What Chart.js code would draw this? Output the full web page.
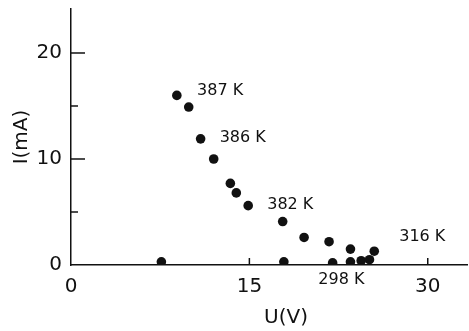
<!DOCTYPE html>
<html>
<head>
<meta charset="utf-8">
<script src="https://cdn.jsdelivr.net/npm/chart.js@4.4.1/dist/chart.umd.min.js"></script>
<style>
html,body{margin:0;padding:0;background:#fff;}
#wrap{width:469px;height:331px;position:relative;}
</style>
</head>
<body>
<div id="wrap"><canvas id="c" width="469" height="331"></canvas></div>
<script>
// Data
const voltage = [7.6, 8.9, 9.9, 10.9, 12.0, 13.4, 13.9, 14.9, 17.8, 19.6, 17.9, 21.7, 22.0, 23.5, 23.5, 24.4, 25.1, 25.5];
const current = [0.3, 16.0, 14.9, 11.9, 10.0, 7.7, 6.8, 5.6, 4.1, 2.6, 0.3, 2.2, 0.2, 1.5, 0.3, 0.4, 0.5, 1.3];
const xTicks = [0, 15, 30];
const yTicks = [0, 10, 20];
const yMinorTicks = [5, 15];
const annotationLabels = ["387 K", "386 K", "382 K", "298 K", "316 K"];
const annotationU = [10.6, 12.5, 16.5, 20.8, 27.6];
const annotationI = [16.0, 11.6, 5.25, -1.8, 2.25];
const xTitle = "U(V)";
const yTitle = "I(mA)";

const INK = '#111';
const points = voltage.map((u, i) => ({x: u, y: current[i]}));

const extras = {
  id: 'extras',
  afterDraw(chart) {
    const ctx = chart.ctx, xs = chart.scales.x, ys = chart.scales.y;
    const a = chart.chartArea;
    ctx.save();
    ctx.strokeStyle = INK;
    ctx.lineWidth = 1.5;
    yTicks.concat(yMinorTicks).forEach(v => {
      if (v === 0) return;
      const py = ys.getPixelForValue(v);
      const len = yTicks.includes(v) ? 14 : 7;
      ctx.beginPath(); ctx.moveTo(a.left, py); ctx.lineTo(a.left + len, py); ctx.stroke();
    });
    xTicks.forEach(v => {
      if (v === 0) return;
      const px = xs.getPixelForValue(v);
      ctx.beginPath(); ctx.moveTo(px, a.bottom); ctx.lineTo(px, a.bottom - 7); ctx.stroke();
    });
    ctx.fillStyle = INK;
    ctx.font = '16px "DejaVu Sans"';
    ctx.textAlign = 'left';
    ctx.textBaseline = 'alphabetic';
    annotationLabels.forEach((t, i) => {
      ctx.fillText(t, xs.getPixelForValue(annotationU[i]), ys.getPixelForValue(annotationI[i]));
    });
    ctx.font = '20px "DejaVu Sans"';
    ctx.textAlign = 'center';
    ctx.textBaseline = 'middle';
    ctx.fillText(xTitle, 286, 318);
    ctx.translate(22, 137);
    ctx.rotate(-Math.PI / 2);
    ctx.fillText(yTitle, 0, 0);
    ctx.restore();
  }
};

function noPad(s) { s.paddingTop = 0; s.paddingBottom = 0; s.paddingLeft = 0; s.paddingRight = 0; }

new Chart(document.getElementById('c'), {
  type: 'scatter',
  data: {
    datasets: [{
      data: points,
      backgroundColor: INK,
      borderColor: INK,
      pointRadius: 4.8,
      pointHoverRadius: 4.8,
      borderWidth: 0
    }]
  },
  options: {
    responsive: false,
    animation: false,
    events: [],
    layout: {autoPadding: false, padding: {top: 9, right: 2, left: 0, bottom: 0}},
    plugins: {legend: {display: false}, tooltip: {enabled: false}},
    scales: {
      x: {
        type: 'linear',
        min: 0, max: 33.3,
        afterBuildTicks: s => { s.ticks = xTicks.map(v => ({value: v})); },
        afterFit: s => { s.height = 66; noPad(s); },
        grid: {display: false, drawTicks: false},
        border: {display: true, color: INK, width: 1.5},
        ticks: {color: INK, font: {family: 'DejaVu Sans', size: 20}, padding: 10, maxRotation: 0, autoSkip: false}
      },
      y: {
        type: 'linear',
        min: 0, max: 24.15,
        afterBuildTicks: s => { s.ticks = yTicks.map(v => ({value: v})); },
        afterFit: s => { s.width = 71; noPad(s); },
        grid: {display: false, drawTicks: false},
        border: {display: true, color: INK, width: 1.5},
        ticks: {color: INK, font: {family: 'DejaVu Sans', size: 20}, padding: 9, autoSkip: false}
      }
    }
  },
  plugins: [extras]
});
</script>
</body>
</html>
